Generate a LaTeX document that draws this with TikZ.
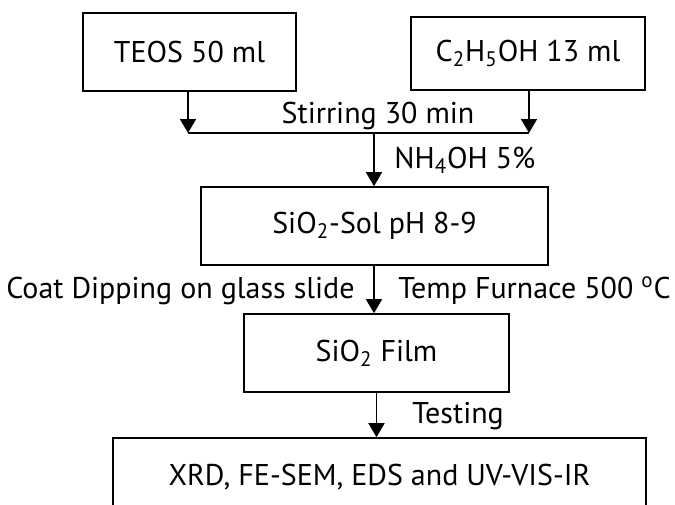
\documentclass[tikz,border=0pt]{standalone}
\usepackage{fontspec}
\setmainfont{PT Sans}
\usetikzlibrary{arrows.meta}
\tikzset{
  stepbox/.style={draw,thick,minimum height=39pt,inner sep=0pt},
  flow/.style={thick,-{Triangle[width=8pt,length=7pt]}},
  lbl/.style={inner sep=0pt}
}
\begin{document}
\begin{tikzpicture}[x=0.5pt,y=-0.5pt,font=\fontsize{15}{18}\selectfont]
  \useasboundingbox (0,0) rectangle (675,504);
  % boxes
  \node[stepbox,minimum width=106.5pt] (teos) at (189.5,52) {TEOS 50 ml};
  \node[stepbox,minimum width=117pt,minimum height=36.5pt] (etoh) at (528,53.5) {C\textsubscript{2}H\textsubscript{5}OH 13 ml};
  \node[stepbox,minimum width=173.5pt] (sol) at (374.5,226) {SiO\textsubscript{2}-Sol pH 8-9};
  \node[stepbox,minimum width=132.5pt] (film) at (376.5,353) {SiO\textsubscript{2} Film};
  \node[stepbox,minimum width=266.5pt] (test) at (379.5,477) {XRD, FE-SEM, EDS and UV-VIS-IR};
  % mixing
  \coordinate (mixl) at (188,133);
  \coordinate (mixr) at (529,133);
  \coordinate (mixc) at (374,133);
  \draw[flow] (teos.south -| mixl) -- (mixl);
  \draw[flow] (etoh.south -| mixr) -- (mixr);
  \draw[thick] (mixl) -- (mixr);
  \draw[flow] (mixc) -- (sol.north -| mixc);
  \draw[flow] (sol.south -| mixc) -- (film.north -| mixc);
  \draw[flow] (film.south) -- (test.north -| film.south);
  % labels
  \node[lbl,anchor=base] (stir) at (378,123) {Stirring 30 min};
  \node[lbl,anchor=base west] (nh) at (394,168) {NH\textsubscript{4}OH 5\%};
  \node[lbl,anchor=base east] (coat) at (355,298) {Coat Dipping on glass slide};
  \node[lbl,anchor=base west] (temp) at (398,298) {Temp Furnace 500 \textsuperscript{o}C};
  \node[lbl,anchor=base west] (testing) at (412,423) {Testing};
\end{tikzpicture}
\end{document}
